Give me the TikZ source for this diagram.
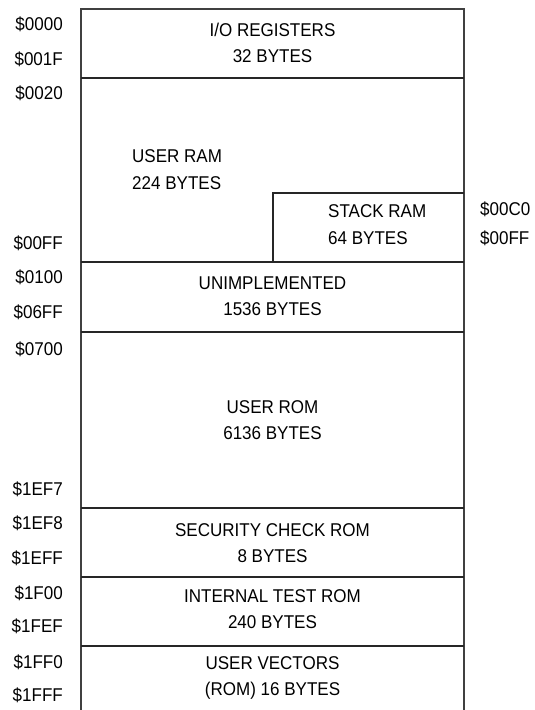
\documentclass[tikz,border=0pt]{standalone}
\usepackage{fontspec}
\setmainfont{Liberation Sans}[FakeStretch=0.92]

\begin{document}
\begin{tikzpicture}[
    x=1pt, y=-1pt,
    font=\fontsize{18.5}{26.5}\selectfont,
    wall/.style={draw=black!75, line width=1.8pt},
    sep/.style={draw=black!85, line width=1.3pt},
    addr/.style={anchor=east, inner sep=0pt},
    raddr/.style={anchor=west, inner sep=0pt},
    lbl/.style={align=center, inner sep=0pt},
    llbl/.style={align=left, anchor=west, inner sep=0pt}
  ]
    \useasboundingbox (0,0) rectangle (535,710);

    % outline of the map
    \coordinate (TL) at (81,9);
    \coordinate (TR) at (464,9);
    \coordinate (BL) at (81,710);
    \coordinate (BR) at (464,710);
    \draw[wall] (BL) -- (TL) -- (TR) -- (BR);

    % band borders
    \foreach \y in {78,262,332,508,577,646}
      \draw[sep] (81,\y) -- (464,\y);
    \coordinate (S1) at (273,262);
    \coordinate (S2) at (273,193);
    \coordinate (S3) at (464,193);
    \draw[sep] (S1) -- (S2) -- (S3);

    % contents
    \node[lbl] (io) at (272.5,43) {I/O REGISTERS\\32 BYTES};
    \node[llbl] (uram) at (132,169.5) {USER RAM\\224 BYTES};
    \node[llbl] (sram) at (328,224.5) {STACK RAM\\64 BYTES};
    \node[lbl] (unimp) at (272.5,296) {UNIMPLEMENTED\\1536 BYTES};
    \node[lbl] (urom) at (272.5,420) {USER ROM\\6136 BYTES};
    \node[lbl] (sec) at (272.5,543) {SECURITY CHECK ROM\\8 BYTES};
    \node[lbl] (test) at (272.5,609) {INTERNAL TEST ROM\\240 BYTES};
    \node[lbl] (vec) at (272.5,678) {USER VECTORS\\(ROM) 16 BYTES};

    % addresses
    \node[addr] (a0000) at (63,24.5) {\$0000};
    \node[addr] (a001F) at (63,59) {\$001F};
    \node[addr] (a0020) at (63,93) {\$0020};
    \node[addr] (a00FF) at (63,243) {\$00FF};
    \node[addr] (a0100) at (63,277) {\$0100};
    \node[addr] (a06FF) at (63,312) {\$06FF};
    \node[addr] (a0700) at (63,349) {\$0700};
    \node[addr] (a1EF7) at (63,489) {\$1EF7};
    \node[addr] (a1EF8) at (63,523) {\$1EF8};
    \node[addr] (a1EFF) at (63,558) {\$1EFF};
    \node[addr] (a1F00) at (63,593) {\$1F00};
    \node[addr] (a1FEF) at (63,626) {\$1FEF};
    \node[addr] (a1FF0) at (63,662) {\$1FF0};
    \node[addr] (a1FFF) at (63,695) {\$1FFF};
    \node[raddr] (a00C0) at (480,209) {\$00C0};
    \node[raddr] (b00FF) at (480,238) {\$00FF};
  \end{tikzpicture}
\end{document}
